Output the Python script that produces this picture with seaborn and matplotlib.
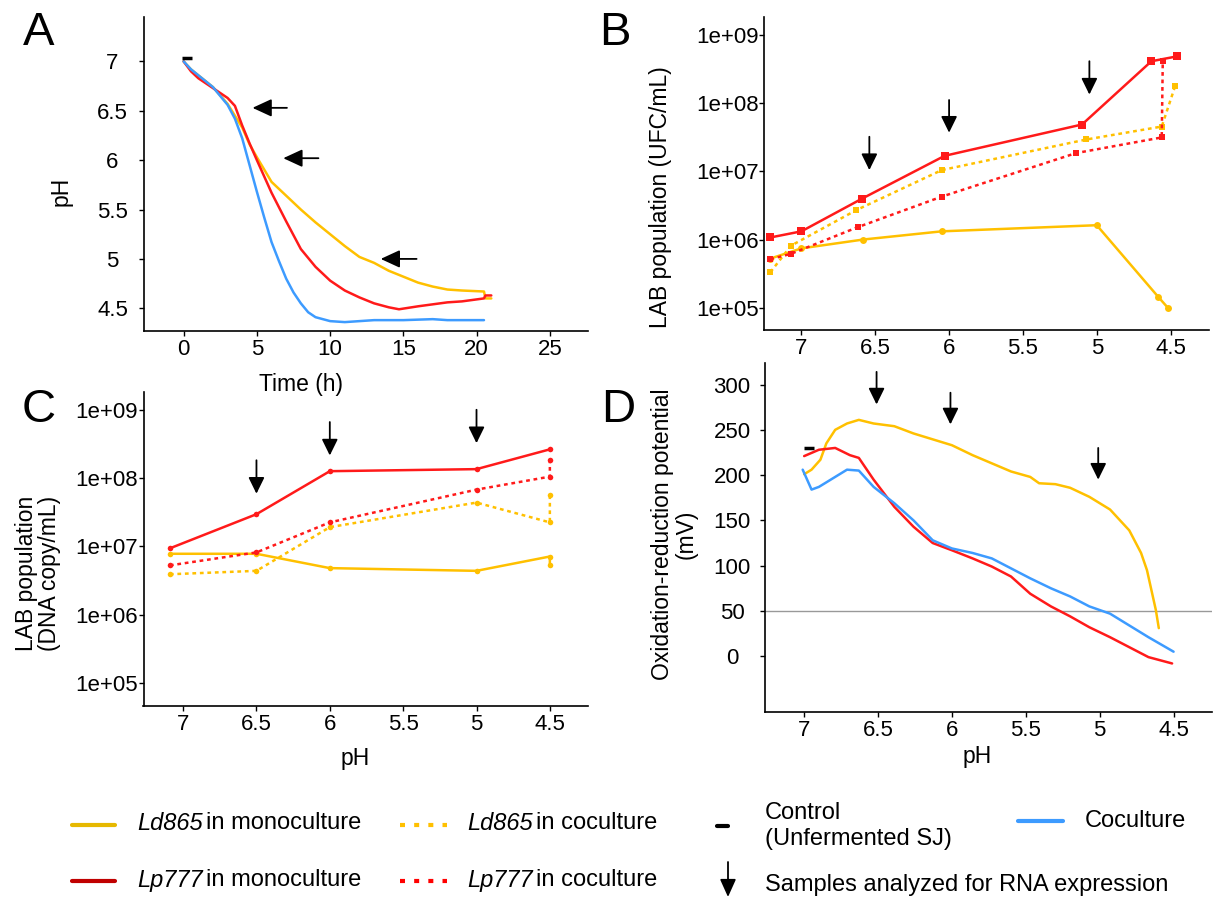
import numpy as np
import pandas as pd
import seaborn as sns
import matplotlib.pyplot as plt
from matplotlib.lines import Line2D
from matplotlib.patches import FancyArrowPatch
from matplotlib.ticker import NullLocator

# ---- panel A: pH vs time ----
a_ld_t = [0, 0.5, 1, 2, 3, 4, 4.5, 5, 6, 7, 8, 9, 10, 11, 12, 13, 14, 15, 16, 17, 18, 19, 20.5, 20.6, 21]
a_ld_ph = [7.0, 6.92, 6.86, 6.74, 6.57, 6.33, 6.16, 6.03, 5.78, 5.64, 5.5, 5.37, 5.25, 5.13, 5.02, 4.96,
           4.88, 4.82, 4.76, 4.72, 4.69, 4.68, 4.67, 4.6, 4.6]
a_lp_t = [0, 0.5, 1, 2, 3, 3.5, 4, 4.5, 5, 6, 7, 8, 9, 10, 11, 12, 13, 14, 14.7, 16, 17, 18, 19, 20, 20.5, 20.6, 21]
a_lp_ph = [7.0, 6.9, 6.83, 6.73, 6.63, 6.55, 6.35, 6.17, 6.0, 5.67, 5.38, 5.1, 4.92, 4.78, 4.68, 4.61, 4.55,
           4.51, 4.49, 4.52, 4.54, 4.56, 4.57, 4.59, 4.6, 4.63, 4.63]
a_co_t = [0, 0.5, 1, 2, 3, 3.5, 4, 4.5, 5, 5.5, 6, 6.5, 7, 7.5, 8, 8.5, 9, 10, 11, 12, 13, 15, 17, 18, 20.5]
a_co_ph = [7.0, 6.92, 6.86, 6.74, 6.56, 6.42, 6.22, 5.95, 5.68, 5.42, 5.17, 4.98, 4.8, 4.66, 4.55, 4.46,
           4.41, 4.37, 4.36, 4.37, 4.38, 4.38, 4.39, 4.38, 4.38]
a_arrows = [(4.7, 7.05, 6.53), (6.8, 9.2, 6.02), (13.45, 15.9, 5.0)]  # head t, tail t, pH

# ---- panel B: UFC/mL vs pH (log10 values) ----
b_lp_mono_ph = [7.21, 7.0, 6.59, 6.03, 5.1, 4.63, 4.46]
b_lp_mono_log = [6.03, 6.12, 6.6, 7.23, 7.69, 8.62, 8.69]
b_lp_co_ph = [7.21, 7.07, 6.62, 6.05, 5.14, 4.56, 4.553]
b_lp_co_log = [5.71, 5.79, 6.18, 6.63, 7.27, 7.5, 8.63]
b_ld_co_ph = [7.21, 7.07, 6.63, 6.05, 5.07, 4.56, 4.47]
b_ld_co_log = [5.52, 5.91, 6.43, 7.02, 7.47, 7.66, 8.25]
b_ld_mono_ph = [7.21, 7.0, 6.58, 6.05, 5.0, 4.585, 4.52]
b_ld_mono_log = [5.72, 5.87, 6.0, 6.12, 6.21, 5.16, 5.0]
b_arrows = [(6.54, 7.51, 7.02), (6.0, 8.05, 7.57), (5.05, 8.62, 8.13)]

# ---- panel C: DNA copy/mL vs pH (log10 values) ----
c_ph = [7.09, 6.5, 6.0, 5.0, 4.5]
c_lp_mono_log = [6.97, 7.47, 8.1, 8.13, 8.42]
c_lp_co_ph = [7.09, 6.5, 6.0, 5.0, 4.5, 4.5]
c_lp_co_log = [6.72, 6.91, 7.35, 7.83, 8.02, 8.26]
c_ld_mono_ph = [7.09, 6.5, 6.0, 5.0, 4.5, 4.5]
c_ld_mono_log = [6.89, 6.89, 6.68, 6.64, 6.85, 6.72]
c_ld_co_ph = [7.09, 6.5, 6.0, 5.0, 4.5, 4.5]
c_ld_co_log = [6.59, 6.64, 7.28, 7.64, 7.35, 7.75]
c_arrows = [(6.5, 8.26, 7.77), (6.0, 8.82, 8.33), (5.0, 9.0, 8.51)]

# ---- panel D: redox potential vs pH ----
d_ld_ph = [7.0, 6.95, 6.89, 6.85, 6.79, 6.71, 6.63, 6.53, 6.39, 6.26, 6.0, 5.86, 5.73, 5.6, 5.47, 5.41,
           5.3, 5.2, 5.07, 4.93, 4.8, 4.72, 4.68, 4.62, 4.6]
d_ld_mv = [201, 206, 217, 235, 250, 257, 261, 257, 254, 246, 233, 222, 213, 204, 198, 191, 190, 186, 176,
           162, 139, 114, 95, 51, 31]
d_lp_ph = [7.0, 6.9, 6.79, 6.69, 6.63, 6.53, 6.39, 6.26, 6.13, 6.0, 5.86, 5.73, 5.6, 5.47, 5.33, 5.2,
           5.07, 4.93, 4.8, 4.67, 4.51]
d_lp_mv = [221, 228, 230, 222, 219, 195, 165, 143, 125, 117, 108, 99, 88, 69, 55, 44, 32, 21, 10, -1, -8]
d_co_ph = [7.01, 6.95, 6.9, 6.79, 6.71, 6.63, 6.53, 6.39, 6.26, 6.13, 6.0, 5.86, 5.73, 5.6, 5.47, 5.33,
           5.2, 5.07, 4.93, 4.8, 4.67, 4.5]
d_co_mv = [206, 184, 187, 198, 206, 205, 187, 169, 150, 128, 119, 114, 108, 97, 86, 75, 66, 55, 47, 34,
           21, 5]
d_arrows = [(6.51, 314, 278), (6.01, 291, 256), (5.01, 230, 195)]

ph_ticks = [7, 6.5, 6, 5.5, 5, 4.5]
ph_labels = ["7", "6.5", "6", "5.5", "5", "4.5"]
log_ticks = [1e5, 1e6, 1e7, 1e8, 1e9]
log_labels = ["1e+05", "1e+06", "1e+07", "1e+08", "1e+09"]

YEL = "#FFC000"
RED = "#FF1A1A"
BLUE = "#3D9BFF"

sns.set_style("ticks")
plt.rcParams["font.family"] = ["Liberation Sans", "DejaVu Sans"]
plt.rcParams["text.color"] = "black"
plt.rcParams["axes.labelcolor"] = "black"

W, H = 1214, 897
fig = plt.figure(figsize=(W / 100, H / 100), dpi=100)


def box(l, t, r, b):
    return [l / W, 1 - b / H, (r - l) / W, (b - t) / H]


def fx(x):
    return x / W


def fy(y):
    return 1 - y / H


def style(ax, ypad=1, ycenter=False):
    for s in ["top", "right"]:
        ax.spines[s].set_visible(False)
    for s in ["left", "bottom"]:
        ax.spines[s].set_color("black")
        ax.spines[s].set_linewidth(1.2)
    ax.tick_params(direction="out", length=3.6, width=1, colors="black", labelsize=16)
    ax.tick_params(axis="x", pad=2)
    ax.tick_params(axis="y", pad=ypad)
    if ycenter:
        for t in ax.get_yticklabels():
            t.set_ha("center")


def line(ax, x, y, color, dotted=False, marker=None, ms=5):
    sns.lineplot(x=x, y=y, ax=ax, color=color, lw=1.8, sort=False, estimator=None,
                 linestyle=(0, (1.5, 1.5)) if dotted else "-",
                 marker=marker, markersize=ms, markeredgewidth=0)


def darrow(ax, x, y0, y1):
    ax.annotate("", xy=(x, y1), xytext=(x, y0),
                arrowprops=dict(arrowstyle="-|>,head_width=0.27,head_length=0.55", color="black",
                                lw=1.3, mutation_scale=18, shrinkA=0, shrinkB=0))


# A
axA = fig.add_axes(box(143.5, 17, 588, 331))
line(axA, a_ld_t, a_ld_ph, YEL)
line(axA, a_lp_t, a_lp_ph, RED)
line(axA, a_co_t, a_co_ph, BLUE)
axA.plot([0.2], [7.03], marker="_", color="black", markersize=7, mew=2.5)
for h, tl, y in a_arrows:
    axA.annotate("", xy=(h, y), xytext=(tl, y),
                 arrowprops=dict(arrowstyle="-|>,head_width=0.3,head_length=0.65", color="black",
                                 lw=1.3, mutation_scale=18, shrinkA=0, shrinkB=0))
axA.set_xlim(-2.74, 27.6)
axA.set_ylim(4.27, 7.45)
axA.set_xticks([0, 5, 10, 15, 20, 25])
axA.set_yticks([4.5, 5, 5.5, 6, 6.5, 7])
axA.set_yticklabels(["4.5", "5", "5.5", "6", "6.5", "7"])
axA.set_xlabel("")
axA.set_ylabel("")
style(axA, ypad=18.7, ycenter=True)

# B
axB = fig.add_axes(box(764.5, 17, 1209, 330))
line(axB, b_ld_mono_ph, [10 ** v for v in b_ld_mono_log], YEL, marker="o")
line(axB, b_ld_co_ph, [10 ** v for v in b_ld_co_log], YEL, dotted=True, marker="s")
line(axB, b_lp_co_ph, [10 ** v for v in b_lp_co_log], RED, dotted=True, marker="s")
line(axB, b_lp_mono_ph, [10 ** v for v in b_lp_mono_log], RED, marker="s", ms=6)
for x, y0, y1 in b_arrows:
    darrow(axB, x, 10 ** y0, 10 ** y1)
axB.set_yscale("log")
axB.set_xlim(7.25, 4.24)
axB.set_ylim(10 ** 4.67, 10 ** 9.27)
axB.set_xticks(ph_ticks)
axB.set_xticklabels(ph_labels)
axB.set_yticks(log_ticks)
axB.set_yticklabels(log_labels)
axB.yaxis.set_minor_locator(NullLocator())
axB.set_xlabel("")
axB.set_ylabel("")
style(axB, ypad=0.5)

# C
axC = fig.add_axes(box(143.5, 392, 588, 706))
line(axC, c_ld_mono_ph, [10 ** v for v in c_ld_mono_log], YEL, marker="o", ms=4)
line(axC, c_ld_co_ph, [10 ** v for v in c_ld_co_log], YEL, dotted=True, marker="o", ms=4)
line(axC, c_lp_co_ph, [10 ** v for v in c_lp_co_log], RED, dotted=True, marker="o", ms=4)
line(axC, c_ph, [10 ** v for v in c_lp_mono_log], RED, marker="o", ms=4)
for x, y0, y1 in c_arrows:
    darrow(axC, x, 10 ** y0, 10 ** y1)
axC.set_yscale("log")
axC.set_xlim(7.27, 4.24)
axC.set_ylim(10 ** 4.66, 10 ** 9.26)
axC.set_xticks(ph_ticks)
axC.set_xticklabels(ph_labels)
axC.set_yticks(log_ticks)
axC.set_yticklabels(log_labels)
axC.yaxis.set_minor_locator(NullLocator())
axC.set_xlabel("")
axC.set_ylabel("")
style(axC, ypad=0.5)

# D
axD = fig.add_axes(box(765, 363, 1212, 712))
axD.axhline(50, color="#999999", lw=1)
line(axD, d_ld_ph, d_ld_mv, YEL)
line(axD, d_lp_ph, d_lp_mv, RED)
line(axD, d_co_ph, d_co_mv, BLUE)
axD.plot([6.965], [230], marker="_", color="black", markersize=7, mew=2.5)
for x, y0, y1 in d_arrows:
    darrow(axD, x, y0, y1)
axD.set_xlim(7.265, 4.24)
axD.set_ylim(-61.6, 323.8)
axD.set_xticks(ph_ticks)
axD.set_xticklabels(ph_labels)
axD.set_yticks([0, 50, 100, 150, 200, 250, 300])
axD.set_xlabel("")
axD.set_ylabel("")
style(axD, ypad=20.2, ycenter=True)

# axis titles, placed at their pixel centres
LAB = 16.5
fig.text(fx(301), fy(384), "Time (h)", fontsize=LAB, ha="center", va="center")
fig.text(fx(61), fy(191), "pH", fontsize=LAB, ha="center", va="center", rotation=90)
fig.text(fx(660), fy(197), "LAB population (UFC/mL)", fontsize=LAB, ha="center", va="center", rotation=90)
fig.text(fx(38), fy(573), "LAB population\n(DNA copy/mL)", fontsize=LAB, ha="center", va="center",
         rotation=90, linespacing=1.05)
fig.text(fx(355), fy(758), "pH", fontsize=LAB, ha="center", va="center")
fig.text(fx(674), fy(534), "Oxidation-reduction potential\n(mV)", fontsize=LAB, ha="center", va="center",
         rotation=90, linespacing=1.05)
fig.text(fx(977), fy(757), "pH", fontsize=LAB, ha="center", va="center")

# panel letters
for lab, x, y in [("A", 23, 45), ("B", 599, 45), ("C", 22, 422), ("D", 601, 422)]:
    fig.text(fx(x), fy(y), lab, fontsize=34, ha="left", va="baseline")

# legend (drawn by hand)
LEG = 17
renderer = fig.canvas.get_renderer()


def legend_label(x, y, name, rest):
    t = fig.text(fx(x), fy(y), name, fontsize=LEG, style="italic", va="center")
    bb = t.get_window_extent(renderer)
    fig.text(bb.x1 / W + 3 / W, fy(y), rest, fontsize=LEG, va="center")


legend_lines = [
    (72, 115, 825, "#E6B800", False), (400, 447, 825, YEL, True),
    (1018, 1063, 821, BLUE, False), (72, 115, 881, "#C00000", False), (400, 447, 881, "#FF0000", True),
]
for x0, x1, y, c, dotted in legend_lines:
    fig.add_artist(Line2D([fx(x0), fx(x1)], [fy(y), fy(y)], color=c, lw=3,
                          linestyle=(0, (1.2, 2.2)) if dotted else "-"))
fig.add_artist(Line2D([fx(717), fx(728)], [fy(826), fy(826)], color="black", lw=3))
legend_label(137, 823, "Ld865", "in monoculture")
legend_label(467, 823, "Ld865", "in coculture")
legend_label(137, 880, "Lp777", "in monoculture")
legend_label(467, 880, "Lp777", "in coculture")
fig.text(fx(765), fy(826), "Control\n(Unfermented SJ)", fontsize=LEG, va="center", linespacing=1.2)
fig.text(fx(1085), fy(821), "Coculture", fontsize=LEG, va="center")
fig.text(fx(765), fy(885), "Samples analyzed for RNA expression", fontsize=LEG, va="center")
fig.add_artist(FancyArrowPatch(
    (fx(728), fy(862)), (fx(728), fy(897)), transform=fig.transFigure,
    arrowstyle="-|>,head_width=0.27,head_length=0.6", mutation_scale=18, color="black", lw=1.3,
    shrinkA=0, shrinkB=0))

fig.savefig("out.png", dpi=100)
